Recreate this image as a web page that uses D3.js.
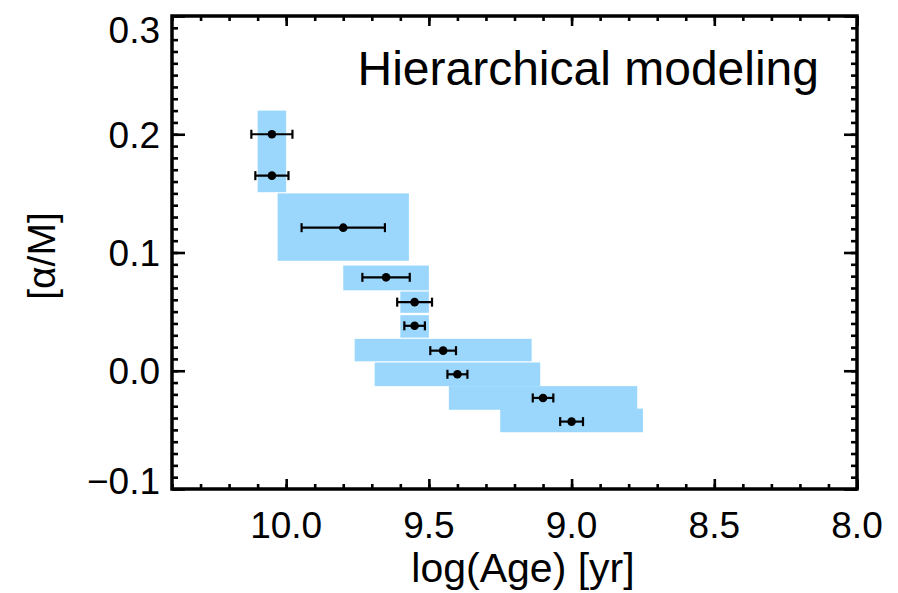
<!DOCTYPE html>
<html>
<head>
<meta charset="utf-8">
<script src="https://cdn.jsdelivr.net/npm/d3@7/dist/d3.min.js"></script>
<style>
  body { margin: 0; background: #fff; }
  svg { display: block; font-family: "Liberation Sans", Arial, Helvetica, sans-serif; }
</style>
</head>
<body>
<div id="chart"></div>
<script>
// tick labels
const ageTicks = [10.0, 9.5, 9.0, 8.5, 8.0];
const alphaTicks = [-0.1, 0.0, 0.1, 0.2, 0.3];

// individual measurements (log age, [a/M]) with age error
const pointAge = [10.05, 10.05, 9.80, 9.65, 9.55, 9.55, 9.45, 9.40, 9.10, 9.00];
const pointAgeErr = [0.072, 0.058, 0.146, 0.083, 0.061, 0.036, 0.045, 0.035, 0.036, 0.040];
const pointAlpha = [0.200, 0.165, 0.121, 0.079, 0.058, 0.038, 0.017, -0.003, -0.023, -0.043];

// hierarchical model bins (shaded boxes)
const binAgeHi = [10.10, 10.03, 9.80, 9.60, 9.60, 9.76, 9.69, 9.43, 9.25];
const binAgeLo = [10.00, 9.57, 9.50, 9.50, 9.50, 9.14, 9.11, 8.77, 8.75];
const binAlphaHi = [0.220, 0.150, 0.089, 0.067, 0.047, 0.027, 0.007, -0.013, -0.032];
const binAlphaLo = [0.151, 0.093, 0.068, 0.049, 0.028, 0.008, -0.013, -0.033, -0.052];

const W = 898, H = 593;
const margin = { top: 16, right: 41, bottom: 104, left: 172 };
const iw = W - margin.left - margin.right;
const ih = H - margin.top - margin.bottom;

const svg = d3.select('#chart').append('svg')
  .attr('width', W)
  .attr('height', H);

const g = svg.append('g').attr('transform', `translate(${margin.left},${margin.top})`);

const x = d3.scaleLinear().domain([10.4, 8.0]).range([0, iw]);
const y = d3.scaleLinear().domain([-0.1, 0.3]).range([ih, 0]);

// boxes
const bins = binAgeHi.map((a, i) => ({ a0: a, a1: binAgeLo[i], y1: binAlphaHi[i], y0: binAlphaLo[i] }));
g.append('g')
  .selectAll('rect')
  .data(bins)
  .join('rect')
  .attr('x', d => x(d.a0))
  .attr('width', d => x(d.a1) - x(d.a0))
  .attr('y', d => y(d.y1))
  .attr('height', d => y(d.y0) - y(d.y1))
  .attr('fill', '#9bd7fc');

// error bars + points
const pts = pointAge.map((a, i) => ({ a, e: pointAgeErr[i], v: pointAlpha[i] }));
const eb = g.append('g').attr('stroke', '#000').attr('stroke-width', 2.2);
eb.selectAll('line.bar')
  .data(pts)
  .join('line')
  .attr('class', 'bar')
  .attr('x1', d => x(d.a + d.e))
  .attr('x2', d => x(d.a - d.e))
  .attr('y1', d => y(d.v))
  .attr('y2', d => y(d.v));
eb.selectAll('line.capl')
  .data(pts)
  .join('line')
  .attr('class', 'capl')
  .attr('x1', d => x(d.a + d.e))
  .attr('x2', d => x(d.a + d.e))
  .attr('y1', d => y(d.v) - 4.5)
  .attr('y2', d => y(d.v) + 4.5);
eb.selectAll('line.capr')
  .data(pts)
  .join('line')
  .attr('class', 'capr')
  .attr('x1', d => x(d.a - d.e))
  .attr('x2', d => x(d.a - d.e))
  .attr('y1', d => y(d.v) - 4.5)
  .attr('y2', d => y(d.v) + 4.5);
g.append('g')
  .selectAll('circle')
  .data(pts)
  .join('circle')
  .attr('cx', d => x(d.a))
  .attr('cy', d => y(d.v))
  .attr('r', 4.3)
  .attr('fill', '#000');

// ticks on all four sides (pointing inward)
const xMinor = d3.range(80, 105).map(i => i / 10);
const yMinor = d3.range(-10, 31).map(i => i / 100);

function tickAxis(axis, transform) {
  const a = g.append('g').attr('transform', transform).call(axis);
  a.select('.domain').remove();
  a.selectAll('text').remove();
  a.selectAll('line').attr('stroke', '#000').attr('stroke-width', 2.6);
  return a;
}
tickAxis(d3.axisBottom(x).tickValues(xMinor).tickSize(-5), `translate(0,${ih})`);
tickAxis(d3.axisBottom(x).tickValues(ageTicks).tickSize(-10), `translate(0,${ih})`);
tickAxis(d3.axisTop(x).tickValues(xMinor).tickSize(-5), 'translate(0,0)');
tickAxis(d3.axisTop(x).tickValues(ageTicks).tickSize(-10), 'translate(0,0)');
tickAxis(d3.axisLeft(y).tickValues(yMinor).tickSize(-6), 'translate(0,0)');
tickAxis(d3.axisLeft(y).tickValues(alphaTicks).tickSize(-13), 'translate(0,0)');
tickAxis(d3.axisRight(y).tickValues(yMinor).tickSize(-6), `translate(${iw},0)`);
tickAxis(d3.axisRight(y).tickValues(alphaTicks).tickSize(-13), `translate(${iw},0)`);

// frame
g.append('rect')
  .attr('width', iw)
  .attr('height', ih)
  .attr('fill', 'none')
  .attr('stroke', '#000')
  .attr('stroke-width', 3.5);

// tick labels
const fmt = d3.format('.1f');
g.append('g')
  .selectAll('text')
  .data(ageTicks)
  .join('text')
  .attr('x', d => x(d))
  .attr('y', ih + 49)
  .attr('text-anchor', 'middle')
  .attr('font-size', 37)
  .text(d => fmt(d));

g.append('g')
  .selectAll('text')
  .data(alphaTicks)
  .join('text')
  .attr('x', -12)
  .attr('y', d => Math.max(14, Math.min(ih - 8, y(d))))
  .attr('dy', '0.36em')
  .attr('text-anchor', 'end')
  .attr('font-size', 37)
  .text(d => fmt(d).replace('-', '\u2212'));

// axis titles
svg.append('text')
  .attr('x', 523)
  .attr('y', 582)
  .attr('text-anchor', 'middle')
  .attr('font-size', 41)
  .text('log(Age) [yr]');

svg.append('text')
  .attr('transform', 'translate(55,256) rotate(-90)')
  .attr('text-anchor', 'middle')
  .attr('font-size', 39)
  .text('[α/M]');

// annotation
svg.append('text')
  .attr('x', 819)
  .attr('y', 85)
  .attr('text-anchor', 'end')
  .attr('font-size', 48)
  .text('Hierarchical modeling');
</script>
</body>
</html>
